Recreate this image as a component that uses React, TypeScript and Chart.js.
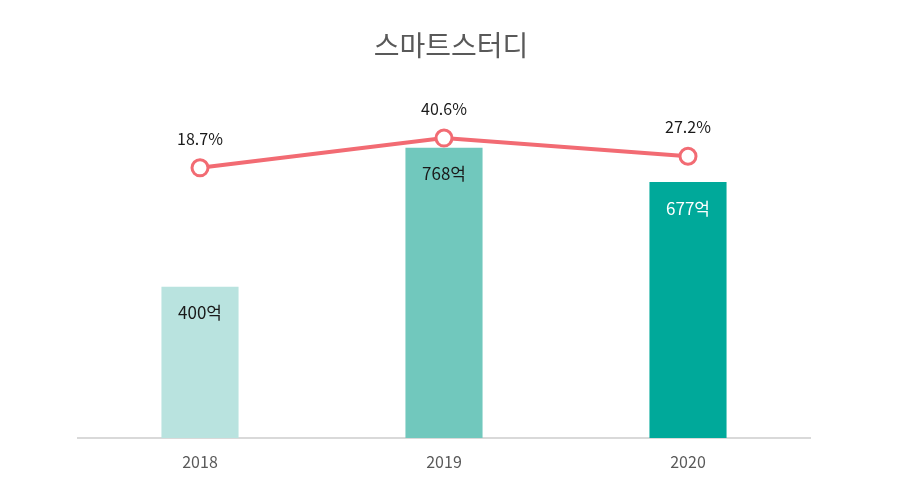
import React, { useEffect, useRef } from "react"
import Chart from "chart.js/auto"

const years = ["2018", "2019", "2020"]
const sales = [400, 768, 677]
const growth = [18.7, 40.6, 27.2]
const barColors = ["#b9e3df", "#71c8bd", "#00a99a"]
const barLabelColors = ["#1a1a1a", "#1a1a1a", "#ffffff"]

const FONT = "'Noto Sans CJK KR', 'Noto Sans', sans-serif"

const labelPlugin = {
  id: "labels",
  afterDatasetsDraw(chart: Chart) {
    const ctx = chart.ctx
    ctx.save()
    ctx.textAlign = "center"
    ctx.textBaseline = "middle"

    // bar labels inside the top of each bar
    const barMeta = chart.getDatasetMeta(1)
    ctx.font = `17px ${FONT}`
    barMeta.data.forEach((el: any, i: number) => {
      ctx.fillStyle = barLabelColors[i]
      ctx.fillText(`${sales[i]}억`, el.x, el.y + 26)
    })

    // percentage labels above line points
    const lineMeta = chart.getDatasetMeta(0)
    ctx.font = `16px ${FONT}`
    ctx.fillStyle = "#1a1a1a"
    lineMeta.data.forEach((el: any, i: number) => {
      ctx.fillText(`${growth[i].toFixed(1)}%`, el.x, el.y - 29)
    })

    // title
    ctx.font = `28px ${FONT}`
    ctx.fillStyle = "#595959"
    ctx.fillText("스마트스터디", chart.width / 2, 45)
    ctx.restore()
  },
}

const App: React.FC = () => {
  const chartRef = useRef<HTMLCanvasElement | null>(null)
  const chartInstance = useRef<Chart | null>(null)

  useEffect(() => {
    if (!chartRef.current) return
    const ctx = chartRef.current.getContext("2d")
    if (!ctx) return
    if (chartInstance.current) chartInstance.current.destroy()

    chartInstance.current = new Chart(ctx, {
      type: "bar",
      data: {
        labels: years,
        datasets: [
          {
            type: "line",
            label: "성장률",
            data: growth,
            yAxisID: "y1",
            borderColor: "#f26b73",
            borderWidth: 4,
            pointRadius: 8,
            pointBorderWidth: 3,
            pointBackgroundColor: "#ffffff",
            pointBorderColor: "#f26b73",
            order: 0,
          },
          {
            type: "bar",
            label: "매출",
            data: sales,
            yAxisID: "y",
            backgroundColor: barColors,
            categoryPercentage: 1,
            barPercentage: 0.316,
            order: 1,
          },
        ] as any,
      },
      options: {
        responsive: false,
        animation: false,
        layout: { padding: { left: 78, right: 92, top: 60, bottom: 0 } },
        plugins: {
          legend: { display: false },
          title: { display: false },
          tooltip: { enabled: false },
        },
        scales: {
          x: {
            grid: { display: false, drawTicks: false },
            border: { display: true, color: "#d9d9d9", width: 2 },
            ticks: {
              color: "#595959",
              font: { family: FONT, size: 16, lineHeight: 1 },
              padding: 16,
            },
          },
          y: {
            display: false,
            min: 0,
            max: 1000,
          },
          y1: {
            display: false,
            min: -180,
            max: 98,
          },
        },
      },
      plugins: [labelPlugin],
    })

    return () => {
      if (chartInstance.current) {
        chartInstance.current.destroy()
        chartInstance.current = null
      }
    }
  }, [])

  return (
    <div style={{ position: "absolute", left: 0, top: 0, width: 902, height: 486, background: "#fff" }}>
      <canvas ref={chartRef} width={902} height={486} />
    </div>
  )
}

export default App
